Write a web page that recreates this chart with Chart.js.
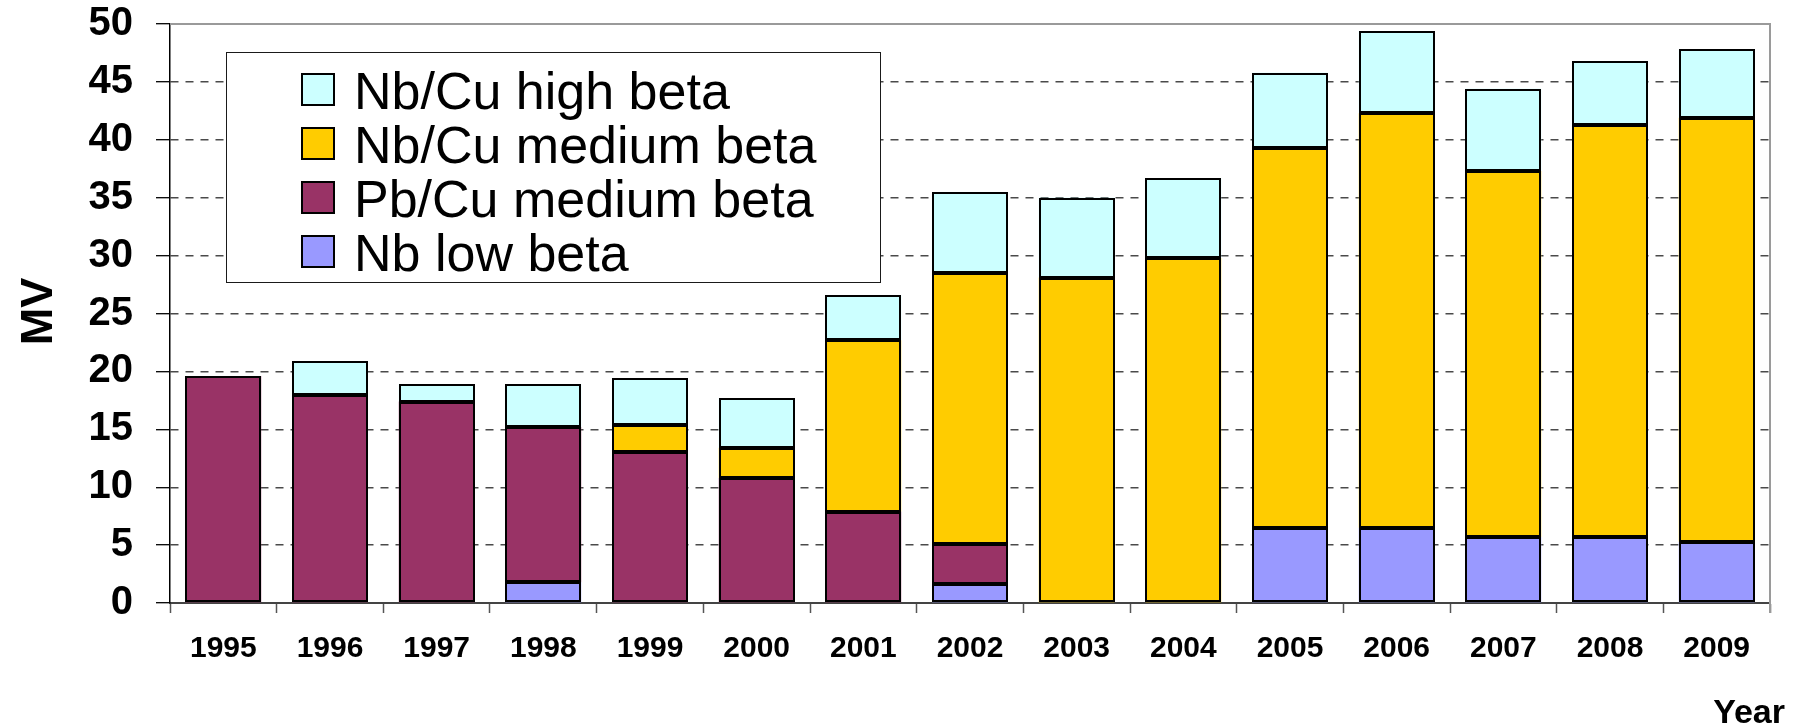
<!DOCTYPE html>
<html>
<head>
<meta charset="utf-8">
<script src="https://cdn.jsdelivr.net/npm/chart.js@4/dist/chart.umd.min.js"></script>
<style>
  html, body { margin: 0; padding: 0; background: #ffffff; }
  #wrap { width: 1796px; height: 727px; }
</style>
</head>
<body>
<div id="wrap"><canvas id="chart" width="1796" height="727"></canvas></div>
<script>
// Accelerating voltage per year, split by cavity type (MV)
const years = ['1995', '1996', '1997', '1998', '1999', '2000', '2001', '2002',
               '2003', '2004', '2005', '2006', '2007', '2008', '2009'];
const nbLowBeta      = [0, 0, 0, 1.8, 0, 0, 0, 1.6, 0, 0, 6.5, 6.5, 5.7, 5.7, 5.3];
const pbCuMediumBeta = [19.6, 18.0, 17.4, 13.4, 13.0, 10.8, 7.9, 3.5, 0, 0, 0, 0, 0, 0, 0];
const nbCuMediumBeta = [0, 0, 0, 0, 2.4, 2.6, 14.8, 23.4, 28.1, 29.8, 32.8, 35.8, 31.6, 35.6, 36.6];
const nbCuHighBeta   = [0, 2.9, 1.5, 3.7, 4.0, 4.3, 3.9, 7.0, 6.9, 6.9, 6.5, 7.1, 7.1, 5.5, 5.9];
const yTicks = [0, 5, 10, 15, 20, 25, 30, 35, 40, 45, 50];

const FONT = '"Liberation Sans", Arial, sans-serif';

function series(label, data, color) {
  return {
    label: label,
    data: data,
    backgroundColor: color,
    borderWidth: 0,
    barPercentage: 0.71,
    categoryPercentage: 1.0
  };
}

// Crisp black outlines around every stacked segment, taken from the bar elements
const segmentOutlines = {
  id: 'segmentOutlines',
  afterDatasetsDraw(chart) {
    const ctx = chart.ctx;
    const sets = chart.data.datasets;
    ctx.save();
    ctx.strokeStyle = '#000000';
    ctx.fillStyle = '#000000';
    ctx.lineWidth = 2;
    sets.forEach((ds, di) => {
      const meta = chart.getDatasetMeta(di);
      meta.data.forEach((el, i) => {
        if (!(ds.data[i] > 0)) return;
        const p = el.getProps(['x', 'y', 'base', 'width'], true);
        const left = Math.round(p.x - p.width / 2) + 1;
        const right = Math.round(p.x + p.width / 2) - 1;
        const top = Math.round(Math.min(p.y, p.base)) + 1;
        const bottom = Math.round(Math.max(p.y, p.base)) - 1;
        ctx.strokeRect(left, top, right - left, bottom - top);
        // heavier seam where another segment sits on top
        const covered = sets.some((other, dj) => dj > di && other.data[i] > 0);
        if (covered) ctx.fillRect(left - 1, top - 2, right - left + 2, 3);
      });
    });
    ctx.restore();
  }
};

// Boxed legend in the upper left of the plot, listed top-down as stacked
const boxLegend = {
  id: 'boxLegend',
  afterDraw(chart) {
    const ctx = chart.ctx;
    const left = 226.5, top = 52.5, right = 880.5, bottom = 282.5;
    ctx.save();
    ctx.fillStyle = '#ffffff';
    ctx.fillRect(left, top, right - left, bottom - top);
    ctx.strokeStyle = '#1a1a1a';
    ctx.lineWidth = 1;
    ctx.strokeRect(left, top, right - left, bottom - top);
    const items = chart.data.datasets.slice().reverse();
    items.forEach((ds, i) => {
      const cy = 90 + i * 54;
      ctx.fillStyle = ds.backgroundColor;
      ctx.fillRect(301, cy - 17, 34, 33);
      ctx.strokeStyle = '#000000';
      ctx.lineWidth = 2;
      ctx.strokeRect(302, cy - 16, 32, 31);
      ctx.fillStyle = '#000000';
      ctx.font = '52px ' + FONT;
      ctx.textAlign = 'left';
      ctx.textBaseline = 'alphabetic';
      ctx.fillText(ds.label, 354, cy + 18.6);
    });
    ctx.restore();
  }
};

// Axis titles and the grey frame on the top/right of the plot
const frameAndTitles = {
  id: 'frameAndTitles',
  beforeDatasetsDraw(chart) {
    const {ctx, chartArea} = chart;
    ctx.save();
    ctx.strokeStyle = '#9a9a9a';
    ctx.lineWidth = 2;
    ctx.beginPath();
    ctx.moveTo(chartArea.left, Math.round(chartArea.top));
    ctx.lineTo(Math.round(chartArea.right), Math.round(chartArea.top));
    ctx.lineTo(Math.round(chartArea.right), chartArea.bottom + 10);
    ctx.stroke();
    ctx.restore();
  },
  afterDraw(chart) {
    const ctx = chart.ctx;
    ctx.save();
    ctx.fillStyle = '#000000';
    ctx.font = 'bold 45px ' + FONT;
    ctx.translate(52, 311.5);
    ctx.rotate(-Math.PI / 2);
    ctx.textAlign = 'center';
    ctx.textBaseline = 'alphabetic';
    ctx.fillText('MV', 0, 0);
    ctx.restore();

    ctx.save();
    ctx.fillStyle = '#000000';
    ctx.font = 'bold 34px ' + FONT;
    ctx.textAlign = 'right';
    ctx.textBaseline = 'alphabetic';
    ctx.fillText('Year', 1785, 723);
    ctx.restore();
  }
};

new Chart(document.getElementById('chart'), {
  type: 'bar',
  data: {
    labels: years,
    datasets: [
      series('Nb low beta', nbLowBeta, '#9999FF'),
      series('Pb/Cu medium beta', pbCuMediumBeta, '#993366'),
      series('Nb/Cu medium beta', nbCuMediumBeta, '#FFCC00'),
      series('Nb/Cu high beta', nbCuHighBeta, '#CCFFFF')
    ]
  },
  options: {
    responsive: false,
    devicePixelRatio: 1,
    animation: false,
    layout: { padding: { left: 0, top: 24, right: 26, bottom: 0 } },
    plugins: {
      legend: { display: false },
      tooltip: { enabled: false },
      title: { display: false }
    },
    scales: {
      x: {
        stacked: true,
        afterFit(scale) { scale.height = 124; },
        grid: {
          display: true,
          offset: true,
          drawOnChartArea: false,
          drawTicks: true,
          tickLength: 10,
          tickColor: '#555555',
          tickWidth: 1.5
        },
        border: { display: true, color: '#444444', width: 2 },
        ticks: {
          color: '#000000',
          font: { family: FONT, size: 30, weight: 'bold' },
          padding: 18,
          maxRotation: 0,
          autoSkip: false
        }
      },
      y: {
        stacked: true,
        min: 0,
        max: 50,
        afterFit(scale) {
          scale.width = 170;
          scale.paddingTop = 0;
          scale.paddingBottom = 0;
        },
        afterBuildTicks(scale) { scale.ticks = yTicks.map(v => ({ value: v })); },
        grid: {
          drawTicks: true,
          tickLength: 14,
          tickColor: '#000000',
          tickWidth: 1.3,
          tickBorderDash: [],
          lineWidth: 1.4,
          color(ctx) {
            const v = ctx.tick ? ctx.tick.value : null;
            if (v === 0 || v === 50) return 'rgba(0,0,0,0)';
            return '#4a4a4a';
          }
        },
        border: {
          display: true,
          color: '#000000',
          width: 1.5,
          dash(ctx) {
            return ctx.tick ? [8, 7] : [];
          }
        },
        ticks: {
          color: '#000000',
          font: { family: FONT, size: 40, weight: 'bold' },
          padding: 23
        }
      }
    }
  },
  plugins: [frameAndTitles, segmentOutlines, boxLegend]
});
</script>
</body>
</html>
